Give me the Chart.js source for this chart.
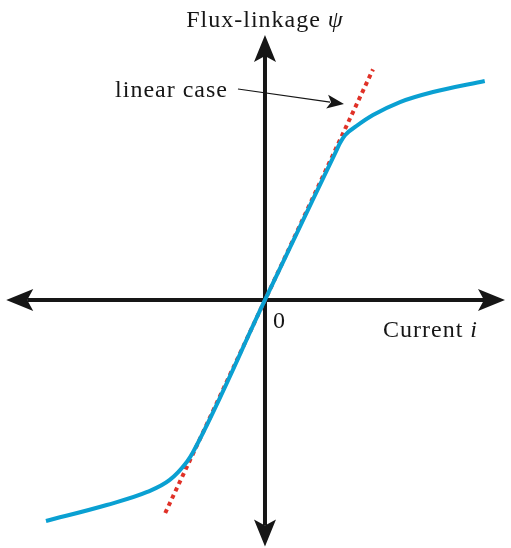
<!DOCTYPE html>
<html>
<head>
<meta charset="utf-8">
<script src="https://cdn.jsdelivr.net/npm/chart.js@4.4.1/dist/chart.umd.min.js"></script>
<style>
  html, body { margin: 0; padding: 0; background: #fff; }
  #wrap { width: 511px; height: 548px; position: relative; }
</style>
</head>
<body>
<div id="wrap"><canvas id="c"></canvas></div>
<script>
// ===== data =====
// saturating flux-linkage curve psi(i)
const curveI   = [-2.92, -2.11, -1.57, -1.27, -1.04, -0.96, 0, 0.96, 1.0, 1.07, 1.24, 1.44, 1.8, 2.24, 2.93];
const curvePsi = [-1.408, -1.306, -1.223, -1.146, -1.03, -0.97, 0, 0.96, 1.0, 1.051, 1.115, 1.178, 1.261, 1.325, 1.395];
// linear (unsaturated) reference line
const linearI   = [-1.33, 1.44];
const linearPsi = [-1.357, 1.469];

const xLabel = 'Current ';
const xSym = 'i';
const yLabel = 'Flux-linkage ';
const ySym = 'ψ';
const originLabel = '0';
const noteText = 'linear case';

// ===== layout (data units) =====
const X_MIN = -3.533, X_MAX = 3.28, Y_MIN = -1.58, Y_MAX = 1.911;
const AX_LEFT = -3.45, AX_RIGHT = 3.2, AX_TOP = 1.688, AX_BOTTOM = -1.57;
const NOTE_AT = [-0.493, 1.293];            // right end / baseline of note text
const NOTE_FROM = [-0.36, 1.344], NOTE_TO = [1.053, 1.248];

const SERIF = '"Liberation Serif", "DejaVu Serif", serif';
const FS = 24;
const INK = '#161616';

// ===== helpers =====
function arrowHead(ctx, x, y, ang, len, half, notch) {
  ctx.save();
  ctx.translate(x, y); ctx.rotate(ang);
  ctx.beginPath();
  ctx.moveTo(0, 0);
  ctx.lineTo(-len, -half);
  ctx.lineTo(-len + notch, 0);
  ctx.lineTo(-len, half);
  ctx.closePath();
  ctx.fill();
  ctx.restore();
}
function mixedText(ctx, parts, x, y, align, size) {
  // parts: [[text, italic], ...]
  const fonts = parts.map(p => (p[1] ? 'italic ' : '') + size + 'px ' + SERIF);
  ctx.letterSpacing = '1px';
  let w = 0;
  parts.forEach((p, i) => { ctx.font = fonts[i]; w += ctx.measureText(p[0]).width; });
  let cx = align === 'center' ? x - w / 2 : align === 'right' ? x - w : x;
  ctx.textAlign = 'left'; ctx.textBaseline = 'alphabetic';
  parts.forEach((p, i) => { ctx.font = fonts[i]; ctx.fillText(p[0], cx, y); cx += ctx.measureText(p[0]).width; });
  ctx.letterSpacing = '0px';
}

// ===== axes with arrows (under the curves) =====
const axesPlugin = {
  id: 'axes',
  beforeDatasetsDraw(c) {
    const { ctx, scales: { x, y } } = c;
    const ox = x.getPixelForValue(0), oy = y.getPixelForValue(0);
    const l = x.getPixelForValue(AX_LEFT), r = x.getPixelForValue(AX_RIGHT);
    const t = y.getPixelForValue(AX_TOP), b = y.getPixelForValue(AX_BOTTOM);
    const L = 27;
    ctx.save();
    ctx.strokeStyle = INK; ctx.fillStyle = INK; ctx.lineWidth = 4;
    ctx.beginPath();
    ctx.moveTo(l + L - 6, oy); ctx.lineTo(r - L + 6, oy);
    ctx.moveTo(ox, t + L - 6); ctx.lineTo(ox, b - L + 6);
    ctx.stroke();
    arrowHead(ctx, r, oy, 0, L, 11, 6);
    arrowHead(ctx, l, oy, Math.PI, L, 11, 6);
    arrowHead(ctx, ox, t, -Math.PI / 2, L, 11, 6);
    arrowHead(ctx, ox, b, Math.PI / 2, L, 11, 6);
    ctx.restore();
  },
  afterDraw(c) {
    const { ctx, scales: { x, y } } = c;
    const ox = x.getPixelForValue(0), oy = y.getPixelForValue(0);
    ctx.save();
    ctx.fillStyle = INK;
    mixedText(ctx, [[yLabel, false], [ySym, true]], ox, y.getPixelForValue(AX_TOP) - 8, 'center', FS);
    mixedText(ctx, [[xLabel, false], [xSym, true]], x.getPixelForValue(AX_RIGHT) - 27, oy + 37, 'right', FS);
    mixedText(ctx, [[originLabel, false]], ox + 8, oy + 28, 'left', FS);
    mixedText(ctx, [[noteText, false]], x.getPixelForValue(NOTE_AT[0]), y.getPixelForValue(NOTE_AT[1]), 'right', FS);
    // pointer from note to the linear line
    const x0 = x.getPixelForValue(NOTE_FROM[0]), y0 = y.getPixelForValue(NOTE_FROM[1]);
    const x1 = x.getPixelForValue(NOTE_TO[0]), y1 = y.getPixelForValue(NOTE_TO[1]);
    const ang = Math.atan2(y1 - y0, x1 - x0);
    ctx.strokeStyle = INK; ctx.lineWidth = 1.2;
    ctx.beginPath(); ctx.moveTo(x0, y0); ctx.lineTo(x1 - 14 * Math.cos(ang), y1 - 14 * Math.sin(ang)); ctx.stroke();
    arrowHead(ctx, x1, y1, ang, 17, 7, 4);
    ctx.restore();
  }
};

new Chart(document.getElementById('c'), {
  type: 'scatter',
  data: {
    datasets: [
      {
        // listed first so it sits on top of the dotted line
        data: curveI.map((v, i) => ({ x: v, y: curvePsi[i] })),
        showLine: true, borderColor: '#0aa0d2', borderWidth: 4,
        cubicInterpolationMode: 'monotone', pointRadius: 0
      },
      {
        data: linearI.map((v, i) => ({ x: v, y: linearPsi[i] })),
        showLine: true, borderColor: '#e03127', borderWidth: 4,
        borderDash: [4, 4], borderCapStyle: 'butt', pointRadius: 0
      }
    ]
  },
  options: {
    responsive: true, maintainAspectRatio: false, animation: false,
    layout: { padding: 0 },
    plugins: { legend: { display: false }, tooltip: { enabled: false } },
    scales: {
      x: { type: 'linear', min: X_MIN, max: X_MAX, display: false },
      y: { type: 'linear', min: Y_MIN, max: Y_MAX, display: false }
    }
  },
  plugins: [axesPlugin]
});
</script>
</body>
</html>
